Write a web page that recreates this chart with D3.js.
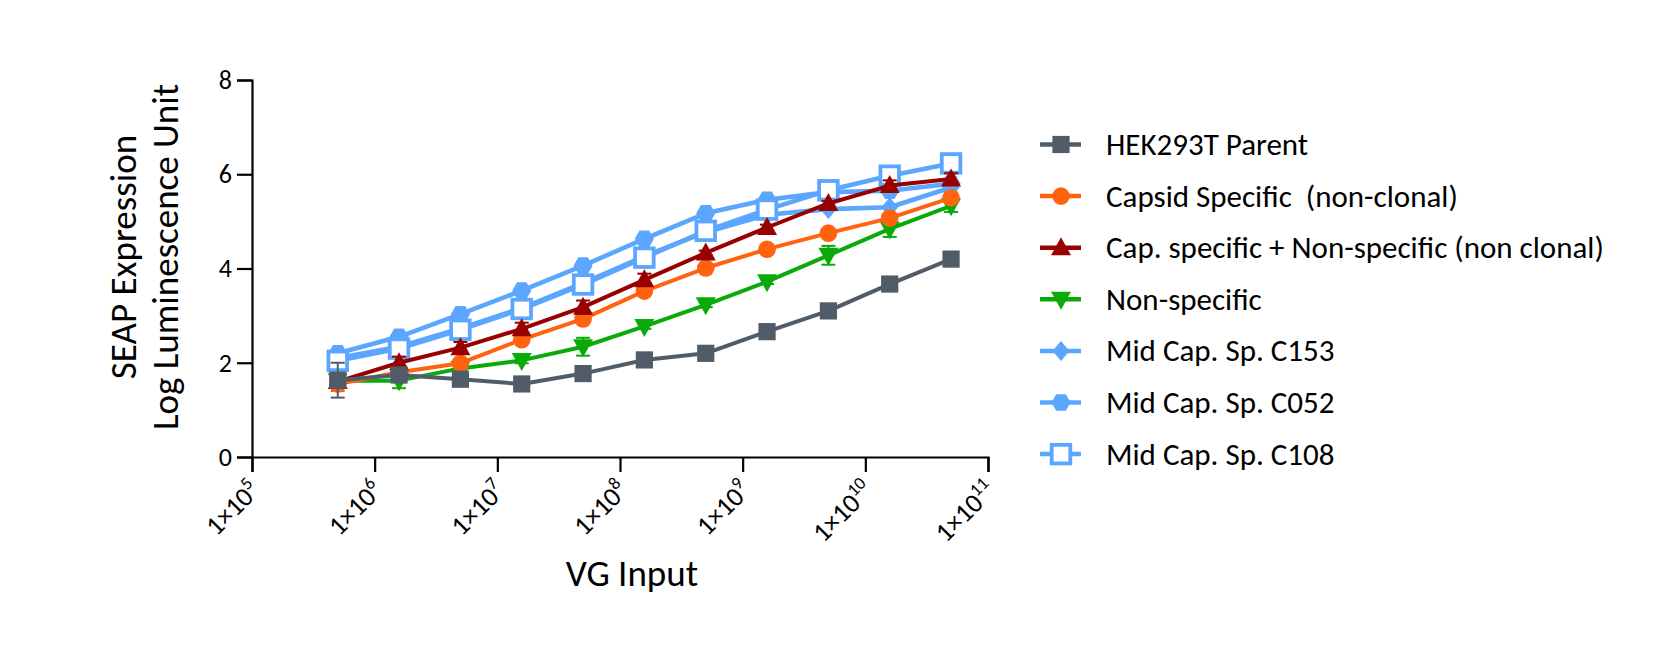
<!DOCTYPE html>
<html><head><meta charset="utf-8">
<script src="https://cdn.jsdelivr.net/npm/d3@7"></script>
<style>
html,body{margin:0;padding:0;background:#fff;}
svg{display:block;font-family:Carlito, Lato, "Open Sans", sans-serif;}
</style></head>
<body><svg id="c" width="1680" height="671"></svg>
<script>
// ---- data ----
const vgInput = [5e5, 1.58e6, 5e6, 1.58e7, 5e7, 1.58e8, 5e8, 1.58e9, 5e9, 1.58e10, 5e10];
const xTickValues = [1e5, 1e6, 1e7, 1e8, 1e9, 1e10, 1e11];
const yTickValues = [0, 2, 4, 6, 8];

const seriesNames = ["HEK293T Parent", "Capsid Specific  (non-clonal)", "Cap. specific + Non-specific (non clonal)",
  "Non-specific", "Mid Cap. Sp. C153", "Mid Cap. Sp. C052", "Mid Cap. Sp. C108"];
const hekParent      = [1.63, 1.74, 1.65, 1.55, 1.77, 2.06, 2.20, 2.66, 3.10, 3.67, 4.20];
const capsidSpecific = [1.55, 1.80, 1.99, 2.49, 2.93, 3.52, 4.01, 4.41, 4.75, 5.07, 5.50];
const capPlusNon     = [1.60, 2.00, 2.32, 2.72, 3.18, 3.76, 4.33, 4.87, 5.38, 5.76, 5.90];
const nonSpecific    = [1.62, 1.62, 1.88, 2.05, 2.34, 2.77, 3.23, 3.72, 4.28, 4.84, 5.33];
const midC153        = [2.10, 2.34, 2.73, 3.16, 3.69, 4.26, 4.77, 5.14, 5.26, 5.30, 5.72];
const midC052        = [2.20, 2.55, 3.03, 3.53, 4.06, 4.63, 5.17, 5.46, 5.62, 5.65, 5.80];
const midC108        = [2.04, 2.30, 2.70, 3.14, 3.66, 4.23, 4.80, 5.25, 5.66, 5.97, 6.23];
// error (SEM) estimates
const hekErr   = [0.37, 0.05, 0.04, 0.04, 0.04, 0.04, 0.04, 0.04, 0.04, 0.04, 0.04];
const capErr   = [0.15, 0.06, 0.04, 0.05, 0.05, 0.04, 0.04, 0.04, 0.04, 0.05, 0.06];
const cpnErr   = [0.05, 0.13, 0.12, 0.13, 0.14, 0.13, 0.05, 0.06, 0.05, 0.11, 0.12];
const nonErr   = [0.04, 0.16, 0.04, 0.06, 0.19, 0.05, 0.05, 0.05, 0.20, 0.17, 0.13];
const c153Err  = [0,0,0,0,0,0,0,0,0,0,0];
const c052Err  = [0,0,0,0,0,0,0,0,0,0,0];
const c108Err  = [0,0,0,0,0,0,0,0,0,0,0];

const colors = ["#515c69", "#ff630f", "#990000", "#0aaa0a", "#5ba6ff", "#5ba6ff", "#5ba6ff"];
const shapes = ["square", "circle", "triangle", "triangleDown", "diamond", "hexagon", "openSquare"];

const series = seriesNames.map((name, i) => ({
  name, color: colors[i], shape: shapes[i],
  values: [hekParent, capsidSpecific, capPlusNon, nonSpecific, midC153, midC052, midC108][i],
  err: [hekErr, capErr, cpnErr, nonErr, c153Err, c052Err, c108Err][i]
}));

const FONT = "Carlito, Lato, sans-serif";

// ---- scales ----
const svg = d3.select("#c");
const x = d3.scaleLog().domain([1e5, 1e11]).range([252, 988]);
const y = d3.scaleLinear().domain([0, 8]).range([457, 80]);

// ---- axes ----
const yAxis = svg.append("g").attr("transform", "translate(252,0)")
  .call(d3.axisLeft(y).tickValues(yTickValues).tickSize(15).tickPadding(5).tickFormat(d3.format("d")));
yAxis.attr("font-size", 26).attr("font-family", FONT);
yAxis.select(".domain").attr("stroke", "#000").attr("stroke-width", 2.2);
yAxis.selectAll(".tick line").attr("stroke", "#000").attr("stroke-width", 2.2);
yAxis.selectAll(".tick text").style("font-size", "26px").attr("fill", "#000");

const xAxis = svg.append("g").attr("transform", "translate(0,457)")
  .call(d3.axisBottom(x).tickValues(xTickValues).tickSize(15).tickFormat(() => ""));
xAxis.attr("font-size", 27).attr("font-family", FONT);
xAxis.select(".domain").attr("stroke", "#000").attr("stroke-width", 2.2);
xAxis.selectAll(".tick line").attr("stroke", "#000").attr("stroke-width", 2.2);
xAxis.selectAll(".tick text").each(function(d) {
  const t = d3.select(this);
  t.text(null).attr("x", 0).attr("y", 0).attr("dy", 0)
   .attr("text-anchor", "end").attr("fill", "#000")
   .style("font-size", "27px")
   .attr("transform", "translate(9,35) rotate(-45)");
  t.append("tspan").text("1\u00d710");
  t.append("tspan").attr("dy", -11).style("font-size", "18px").text(Math.round(Math.log10(d)));
});

// axis titles
svg.append("text").attr("x", 632).attr("y", 586).attr("text-anchor", "middle")
  .style("font-size", "37px").attr("fill", "#000").text("VG Input");
const yt = svg.append("text").attr("transform", "translate(136,257) rotate(-90)")
  .attr("text-anchor", "middle").style("font-size", "37px").attr("fill", "#000");
yt.append("tspan").attr("x", 0).attr("y", 0).text("SEAP Expression");
yt.append("tspan").attr("x", 0).attr("y", 42).text("Log Luminescence Unit");

// ---- markers ----
function drawMarker(g, shape, color, cx, cy) {
  const s = 8.6;
  if (shape === "square") {
    g.append("rect").attr("x", cx - s).attr("y", cy - s).attr("width", 2*s).attr("height", 2*s).attr("fill", color);
  } else if (shape === "circle") {
    g.append("circle").attr("cx", cx).attr("cy", cy).attr("r", 8.8).attr("fill", color);
  } else if (shape === "triangle") {
    g.append("path").attr("d", `M${cx},${cy-10.5}L${cx+10},${cy+7.5}L${cx-10},${cy+7.5}Z`).attr("fill", color);
  } else if (shape === "triangleDown") {
    g.append("path").attr("d", `M${cx},${cy+10.5}L${cx+10},${cy-7.5}L${cx-10},${cy-7.5}Z`).attr("fill", color);
  } else if (shape === "diamond") {
    g.append("path").attr("d", `M${cx},${cy-10}L${cx+8.5},${cy}L${cx},${cy+10}L${cx-8.5},${cy}Z`).attr("fill", color);
  } else if (shape === "hexagon") {
    const r = 9.6;
    const pts = d3.range(6).map(k => {
      const a = Math.PI / 3 * k;
      return [cx + r * Math.cos(a), cy + r * Math.sin(a)];
    });
    g.append("path").attr("d", "M" + pts.join("L") + "Z").attr("fill", color);
  } else if (shape === "openSquare") {
    g.append("rect").attr("x", cx - 9.3).attr("y", cy - 9.3).attr("width", 18.6).attr("height", 18.6)
      .attr("fill", "#fff").attr("stroke", color).attr("stroke-width", 3.8);
  }
}

const line = d3.line().x(d => x(d[0])).y(d => y(d[1]));
const drawOrder = [5, 4, 6, 3, 1, 2, 0];
const plot = svg.append("g");
drawOrder.forEach(i => {
  const s = series[i];
  const g = plot.append("g");
  const pts = vgInput.map((v, k) => [v, s.values[k]]);
  g.append("path").attr("d", line(pts)).attr("fill", "none").attr("stroke", s.color)
    .attr("stroke-width", s.color === "#5ba6ff" ? 4.6 : 4).attr("stroke-linejoin", "round");
  pts.forEach((p, k) => {
    const e = s.err[k];
    if (!e) return;
    const px = x(p[0]), y1 = y(p[1] - e), y2 = y(p[1] + e);
    g.append("line").attr("x1", px).attr("x2", px).attr("y1", y1).attr("y2", y2).attr("stroke", s.color).attr("stroke-width", 2);
    [y1, y2].forEach(yy => g.append("line").attr("x1", px - 7).attr("x2", px + 7).attr("y1", yy).attr("y2", yy)
      .attr("stroke", s.color).attr("stroke-width", 2));
  });
  pts.forEach(p => drawMarker(g, s.shape, s.color, x(p[0]), y(p[1])));
});

// ---- legend ----
const lg = svg.append("g");
series.forEach((s, i) => {
  const cy = 144.5 + i * 51.6;
  lg.append("line").attr("x1", 1040).attr("x2", 1081).attr("y1", cy).attr("y2", cy)
    .attr("stroke", s.color).attr("stroke-width", 4.5);
  drawMarker(lg, s.shape, s.color, 1061, cy);
  lg.append("text").attr("x", 1106).attr("y", cy + 10.5).style("font-size", "31px").attr("fill", "#000").text(s.name)
    .style("white-space", "pre");
});
</script></body></html>
